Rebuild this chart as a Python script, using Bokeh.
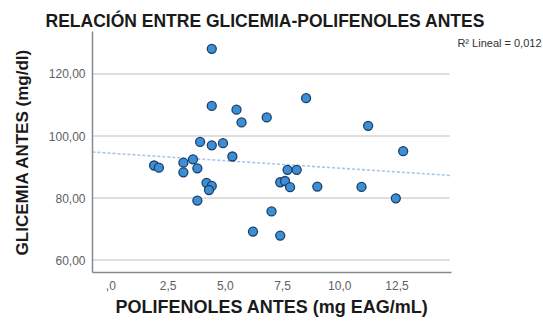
import numpy as np
from bokeh.plotting import figure
from bokeh.models import Label, Title, FixedTicker, CustomJSTickFormatter, Range1d, ColumnDataSource
from bokeh.embed import file_html
from bokeh.resources import INLINE

polifenoles = [4.41, 4.41, 5.49, 5.71, 6.81, 8.53, 11.24, 3.90, 4.41, 4.90, 5.31,
               3.59, 3.17, 1.89, 2.10, 3.17, 3.78, 4.18, 4.41, 4.29, 3.78, 7.40,
               7.02, 6.21, 7.40, 12.77, 7.72, 8.12, 7.61, 7.83, 9.02, 10.95, 12.45]
glicemia = [128.1, 109.7, 108.5, 104.4, 106.0, 112.2, 103.3, 98.1, 97.0, 97.7, 93.4,
            92.5, 91.4, 90.5, 89.8, 88.3, 89.6, 84.9, 83.9, 82.6, 79.2, 85.1,
            75.7, 69.2, 67.9, 95.1, 89.1, 89.1, 85.5, 83.5, 83.7, 83.6, 79.9]
x_ticks = [0, 2.5, 5, 7.5, 10, 12.5]
y_ticks = [60, 80, 100, 120]
title_text = "RELACIÓN ENTRE GLICEMIA-POLIFENOLES ANTES"
r2_text = "R² Lineal = 0,012"
x_label = "POLIFENOLES ANTES (mg EAG/mL)"
y_label = "GLICEMIA ANTES (mg/dl)"

x_axis_bounds = (-0.8, 14.9)
y_axis_bounds = (56.0, 133.7)
x_view = (-0.8, 18.9)   # frame extends right so the R² note fits inside it

p = figure(width=543, height=329, output_backend="svg", toolbar_location=None,
           x_range=Range1d(*x_view), y_range=Range1d(*y_axis_bounds),
           min_border_left=92, min_border_right=0, min_border_top=31, min_border_bottom=57)
p.outline_line_color = None
p.background_fill_color = "white"
p.border_fill_color = "white"

p.title.text = title_text
p.title.align = "left"
p.title.offset = -47
p.title.standoff = 2
p.title.text_font = "Liberation Sans"
p.title.text_font_style = "bold"
p.title.text_font_size = "17.5px"
p.title.text_color = "#1a1a1a"

p.xgrid.visible = False
p.ygrid.visible = False
p.segment(x0=x_axis_bounds[0], x1=x_axis_bounds[1] - 0.1, y0=y_ticks, y1=y_ticks,
          line_color="#d4d4d4", line_width=1.5)

for ax in (p.xaxis[0], p.yaxis[0]):
    ax.axis_line_color = "#8a8a8a"
    ax.axis_line_width = 1.5
    ax.major_tick_line_color = None
    ax.minor_tick_line_color = None
    ax.major_tick_out = 0
    ax.major_tick_in = 0
    ax.minor_tick_out = 0
    ax.major_label_text_color = "#606060"
    ax.major_label_text_font = "Liberation Sans"
    ax.major_label_text_font_size = "12px"
    ax.axis_label_text_font = "Liberation Sans"
    ax.axis_label_text_font_style = "bold"
    ax.axis_label_text_color = "#1a1a1a"

p.xaxis.bounds = x_axis_bounds
p.yaxis.bounds = y_axis_bounds
p.yaxis.axis_label_text_font_size = "17px"
p.xaxis.ticker = FixedTicker(ticks=x_ticks)
p.yaxis.ticker = FixedTicker(ticks=y_ticks)
p.xaxis.formatter = CustomJSTickFormatter(code="""
var s = tick.toFixed(1).replace('.', ',');
if (s.startsWith('0,')) s = s.substring(1);
return s;""")
p.yaxis.formatter = CustomJSTickFormatter(code="return tick.toFixed(2).replace('.', ',');")
p.xaxis.major_label_standoff = 8
p.yaxis.major_label_standoff = 7
p.yaxis.axis_label = y_label
p.yaxis.axis_label_standoff = 14

# x-axis label as a title below, aligned with the bounded axis rather than the wide frame
xt = Title(text=x_label, align="left", offset=23, standoff=4,
           text_font="Liberation Sans", text_font_style="bold",
           text_font_size="18px", text_color="#1a1a1a")
p.add_layout(xt, "below")

# regression line
xs = np.array(polifenoles)
ys = np.array(glicemia)
slope, intercept = np.polyfit(xs, ys, 1)
lx = np.array(x_axis_bounds)
p.line(lx, intercept + slope * lx, line_color="#a9c6ea", line_width=1.6, line_dash="3 2")

src = ColumnDataSource(dict(x=polifenoles, y=glicemia))
p.scatter("x", "y", source=src, size=9, fill_color="#3b8fd6", line_color="#1f3f66", line_width=1.3)

p.add_layout(Label(x=449, y=230, x_units="screen", y_units="screen", text=r2_text,
                   text_align="right", text_baseline="middle", text_font="Liberation Sans",
                   text_font_size="11px", text_color="#333333"))

open("out.html", "w").write(file_html(p, INLINE))
